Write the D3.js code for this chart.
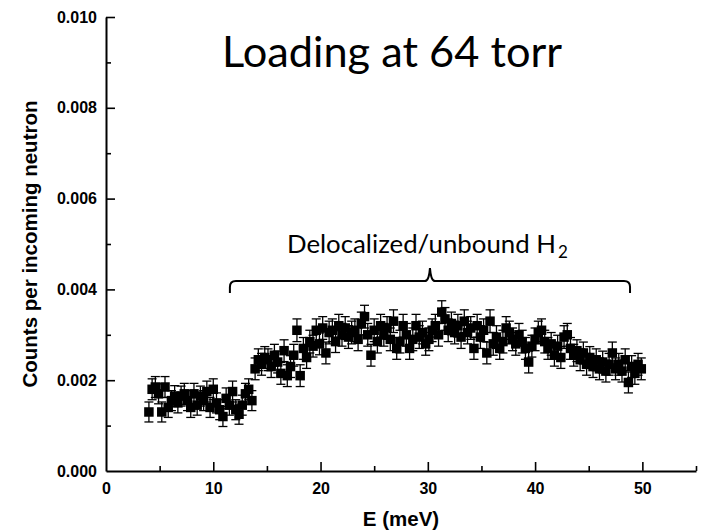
<!DOCTYPE html>
<html><head><meta charset="utf-8">
<script src="https://cdn.jsdelivr.net/npm/d3@7"></script>
<style>
html,body{margin:0;padding:0;background:#fff;}
svg{display:block;}
</style></head>
<body>
<svg id="chart" width="701" height="532"></svg>
<script>
// ---- data ----
const energy = [
4.0,4.3,4.6,4.9,5.2,5.5,5.8,6.1,6.4,6.7,
7.0,7.3,7.6,7.9,8.2,8.5,8.8,9.1,9.4,9.7,
10.0,10.3,10.6,10.9,11.2,11.5,11.8,12.1,12.4,12.7,
13.0,13.3,13.6,13.9,14.2,14.5,14.8,15.1,15.4,15.7,
16.0,16.3,16.6,16.9,17.2,17.5,17.8,18.1,18.4,18.7,
19.0,19.3,19.6,19.9,20.2,20.5,20.8,21.1,21.4,21.7,
22.0,22.3,22.6,22.9,23.2,23.5,23.8,24.1,24.4,24.7,
25.0,25.3,25.6,25.9,26.2,26.5,26.8,27.1,27.4,27.7,
28.0,28.3,28.6,28.9,29.2,29.5,29.8,30.1,30.4,30.7,
31.0,31.3,31.6,31.9,32.2,32.5,32.8,33.1,33.4,33.7,
34.0,34.3,34.6,34.9,35.2,35.5,35.8,36.1,36.4,36.7,
37.0,37.3,37.6,37.9,38.2,38.5,38.8,39.1,39.4,39.7,
40.0,40.3,40.6,40.9,41.2,41.5,41.8,42.1,42.4,42.7,
43.0,43.3,43.6,43.9,44.2,44.5,44.8,45.1,45.4,45.7,
46.0,46.3,46.6,46.9,47.2,47.5,47.8,48.1,48.4,48.7,
49.0,49.3,49.6,49.9];
const counts = [
0.00130,0.00180,0.00185,0.00170,0.00130,0.00185,0.00140,0.00155,0.00165,0.00150,
0.00165,0.00170,0.00155,0.00140,0.00170,0.00145,0.00165,0.00155,0.00175,0.00140,
0.00180,0.00150,0.00135,0.00120,0.00160,0.00145,0.00175,0.00135,0.00125,0.00145,
0.00170,0.00180,0.00155,0.00225,0.00245,0.00235,0.00250,0.00245,0.00230,0.00255,
0.00240,0.00215,0.00265,0.00210,0.00230,0.00255,0.00310,0.00210,0.00270,0.00250,
0.00285,0.00275,0.00310,0.00280,0.00315,0.00260,0.00305,0.00310,0.00285,0.00320,
0.00300,0.00315,0.00295,0.00305,0.00310,0.00290,0.00325,0.00340,0.00300,0.00255,
0.00310,0.00285,0.00320,0.00300,0.00315,0.00290,0.00330,0.00270,0.00285,0.00320,
0.00300,0.00270,0.00290,0.00320,0.00295,0.00305,0.00280,0.00290,0.00310,0.00320,
0.00300,0.00350,0.00335,0.00310,0.00325,0.00305,0.00320,0.00295,0.00330,0.00305,
0.00315,0.00270,0.00320,0.00295,0.00310,0.00260,0.00330,0.00280,0.00295,0.00270,
0.00285,0.00315,0.00305,0.00290,0.00280,0.00300,0.00285,0.00270,0.00240,0.00275,
0.00290,0.00305,0.00310,0.00285,0.00270,0.00280,0.00255,0.00275,0.00250,0.00295,
0.00300,0.00270,0.00255,0.00265,0.00245,0.00260,0.00235,0.00250,0.00230,0.00245,
0.00225,0.00240,0.00220,0.00235,0.00260,0.00225,0.00235,0.00220,0.00245,0.00195,
0.00230,0.00215,0.00235,0.00225];
const errors = [
0.00022,0.00023,0.00023,0.00022,0.00022,0.00023,0.00022,0.00022,0.00023,0.00022,
0.00022,0.00023,0.00022,0.00022,0.00023,0.00022,0.00022,0.00022,0.00023,0.00022,
0.00023,0.00022,0.00022,0.00022,0.00023,0.00022,0.00023,0.00022,0.00022,0.00022,
0.00023,0.00023,0.00022,0.00024,0.00024,0.00024,0.00024,0.00024,0.00024,0.00024,
0.00024,0.00024,0.00024,0.00024,0.00024,0.00024,0.00025,0.00024,0.00024,0.00024,
0.00025,0.00024,0.00025,0.00024,0.00025,0.00024,0.00025,0.00025,0.00024,0.00025,
0.00025,0.00025,0.00025,0.00025,0.00025,0.00025,0.00025,0.00025,0.00025,0.00024,
0.00025,0.00025,0.00025,0.00025,0.00025,0.00025,0.00025,0.00024,0.00025,0.00025,
0.00025,0.00024,0.00025,0.00025,0.00025,0.00025,0.00025,0.00025,0.00025,0.00025,
0.00025,0.00025,0.00025,0.00025,0.00025,0.00025,0.00025,0.00025,0.00025,0.00025,
0.00025,0.00024,0.00025,0.00025,0.00025,0.00024,0.00025,0.00025,0.00025,0.00024,
0.00025,0.00025,0.00025,0.00025,0.00025,0.00025,0.00025,0.00024,0.00024,0.00024,
0.00025,0.00025,0.00025,0.00025,0.00024,0.00025,0.00024,0.00024,0.00024,0.00025,
0.00025,0.00024,0.00024,0.00024,0.00024,0.00024,0.00024,0.00024,0.00024,0.00024,
0.00024,0.00024,0.00024,0.00024,0.00024,0.00024,0.00024,0.00024,0.00024,0.00023,
0.00024,0.00024,0.00024,0.00024];

const xMajorTicks = [0, 10, 20, 30, 40, 50];
const xMinorTicks = [5, 15, 25, 35, 45, 55];
const yMajorTicks = [0.000, 0.002, 0.004, 0.006, 0.008, 0.010];
const yMinorTicks = [0.001, 0.003, 0.005, 0.007, 0.009];

const titleText = "Loading at 64 torr";
const annotationText = "Delocalized/unbound H";
const annotationSub = "2";
const xTitle = "E (meV)";
const yTitle = "Counts per incoming neutron";
// brace span in data units (E range) and its level in counts
const braceE = [11.55, 30.2, 48.85];
const braceLevel = [0.00392, 0.004185, 0.00447];

// ---- layout ----
const svg = d3.select("#chart");
const x = d3.scaleLinear().domain([0, 55]).range([106, 696]);
const y = d3.scaleLinear().domain([0, 0.010]).range([471, 17]);
const axisFont = "Arial, 'Liberation Sans', sans-serif";
const textFont = "Lato, 'Open Sans', sans-serif";

// axes
const xAxis = d3.axisBottom(x).tickValues(xMajorTicks).tickFormat(d3.format("d"))
  .tickSizeInner(-9).tickSizeOuter(0).tickPadding(12);
const gx = svg.append("g").attr("transform", `translate(0,${y(0)})`).call(xAxis);
gx.selectAll("g.tick").filter(d => d === 0).select("line").remove();
const xMinor = d3.axisBottom(x).tickValues(xMinorTicks).tickFormat("").tickSizeInner(-5).tickSizeOuter(0);
const gxm = svg.append("g").attr("transform", `translate(0,${y(0)})`).call(xMinor);
gxm.select(".domain").remove();

const yAxis = d3.axisLeft(y).tickValues(yMajorTicks).tickFormat(d3.format(".3f"))
  .tickSizeInner(-9).tickSizeOuter(0).tickPadding(9);
const gy = svg.append("g").attr("transform", `translate(${x(0)},0)`).call(yAxis);
gy.selectAll("g.tick").filter(d => d === 0).select("line").remove();
const yMinor = d3.axisLeft(y).tickValues(yMinorTicks).tickFormat("").tickSizeInner(-5).tickSizeOuter(0);
const gym = svg.append("g").attr("transform", `translate(${x(0)},0)`).call(yMinor);
gym.select(".domain").remove();

svg.selectAll(".domain").attr("stroke", "#000").attr("stroke-width", 2);
svg.selectAll(".tick line").attr("stroke", "#000").attr("stroke-width", 1.6);
svg.selectAll(".tick text").attr("font-family", axisFont).attr("font-weight", "bold")
  .attr("font-size", 16).attr("fill", "#000");

// axis titles
svg.append("text").attr("x", 401).attr("y", 526).attr("text-anchor", "middle")
  .attr("font-family", axisFont).attr("font-weight", "bold").attr("font-size", 20.5)
  .text(xTitle);
svg.append("text").attr("transform", "translate(37,244) rotate(-90)").attr("text-anchor", "middle")
  .attr("font-family", axisFont).attr("font-weight", "bold").attr("font-size", 20.5)
  .text(yTitle);

// data: error bars + square markers
const data = energy.map((e, i) => ({e, c: counts[i], err: errors[i]}));
const capW = 4.5;
const eb = svg.append("g").attr("stroke", "#000").attr("stroke-width", 1.3);
data.forEach(d => {
  const cx = x(d.e), yt = y(d.c + d.err), yb = y(d.c - d.err);
  eb.append("line").attr("x1", cx).attr("x2", cx).attr("y1", yt).attr("y2", yb);
  eb.append("line").attr("x1", cx - capW).attr("x2", cx + capW).attr("y1", yt).attr("y2", yt);
  eb.append("line").attr("x1", cx - capW).attr("x2", cx + capW).attr("y1", yb).attr("y2", yb);
});
const ms = 9.5;
svg.append("g").selectAll("rect").data(data).join("rect")
  .attr("x", d => x(d.e) - ms / 2).attr("y", d => y(d.c) - ms / 2)
  .attr("width", ms).attr("height", ms).attr("fill", "#000");

// title
svg.append("text").attr("x", 392).attr("y", 67).attr("text-anchor", "middle")
  .attr("font-family", textFont).attr("font-size", 43)
  .attr("textLength", 340).attr("lengthAdjust", "spacingAndGlyphs")
  .text(titleText);

// annotation: size main text so its natural width is ~269px, then subscript right after
const annX = 287, annW = 269;
const ann = svg.append("text").attr("x", annX).attr("y", 253)
  .attr("font-family", textFont).attr("font-size", 28)
  .text(annotationText);
const w0 = ann.node().getComputedTextLength();
const fs = 28 * annW / w0;
ann.attr("font-size", fs);
const w1 = ann.node().getComputedTextLength();
svg.append("text").attr("x", annX + w1 + 2).attr("y", 258)
  .attr("font-family", textFont).attr("font-size", 17)
  .text(annotationSub);

// brace
const bx0 = x(braceE[0]), bxm = x(braceE[1]), bx1 = x(braceE[2]);
const byEnd = y(braceLevel[0]), byLine = y(braceLevel[1]), byTip = y(braceLevel[2]);
const r = 6;
const bracePath = `M${bx0},${byEnd} L${bx0},${byLine + r} Q${bx0},${byLine} ${bx0 + r},${byLine}
 L${bxm - 5},${byLine} Q${bxm - 1},${byLine} ${bxm},${byTip}
 Q${bxm + 1},${byLine} ${bxm + 5},${byLine}
 L${bx1 - r},${byLine} Q${bx1},${byLine} ${bx1},${byLine + r} L${bx1},${byEnd}`;
svg.append("path").attr("d", bracePath).attr("fill", "none").attr("stroke", "#000").attr("stroke-width", 2);
</script>
</body></html>
